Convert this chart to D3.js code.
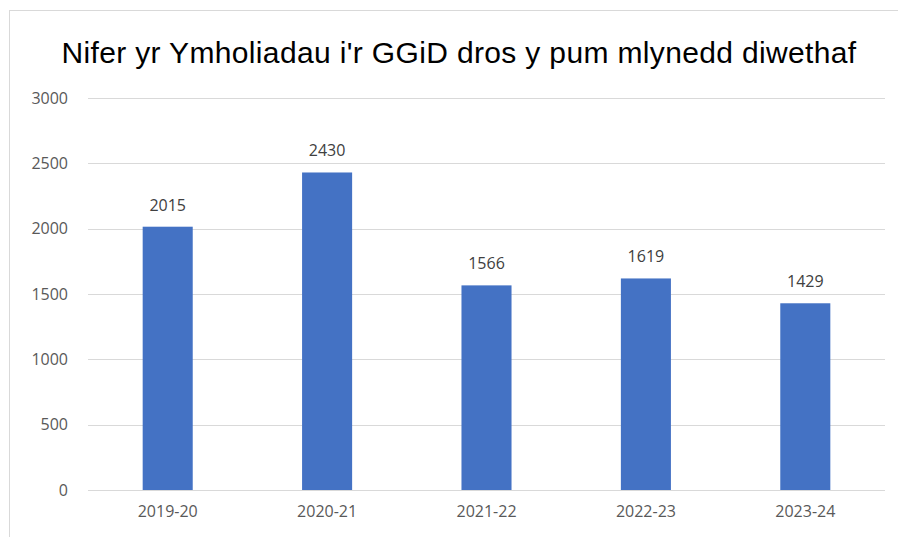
<!DOCTYPE html>
<html>
<head>
<meta charset="utf-8">
<script src="https://cdn.jsdelivr.net/npm/d3@7"></script>
<style>
  body { margin: 0; background: #fff; }
</style>
</head>
<body>
<script>
const years = ['2019-20', '2020-21', '2021-22', '2022-23', '2023-24']
const enquiries = [2015, 2430, 1566, 1619, 1429]
const yTicks = [0, 500, 1000, 1500, 2000, 2500, 3000]
const chartTitle = "Nifer yr Ymholiadau i'r GGiD dros y pum mlynedd diwethaf"

const W = 898, H = 537
const margin = { top: 98, left: 88, right: 13, bottom: 47 }
const width = W - margin.left - margin.right,
  height = H - margin.top - margin.bottom

const svg = d3.select('body')
  .append('svg')
  .attr('width', W)
  .attr('height', H)

// chart border
svg.append('rect')
  .attr('x', 9.5)
  .attr('y', 10.5)
  .attr('width', W)
  .attr('height', H)
  .attr('fill', 'none')
  .attr('stroke', '#d9d9d9')

svg.append('text')
  .attr('x', 459)
  .attr('y', 63)
  .attr('text-anchor', 'middle')
  .style('font-family', '"Liberation Sans", Arial, sans-serif')
  .style('font-size', '30px')
  .style('letter-spacing', '0.35px')
  .style('fill', '#000')
  .text(chartTitle)

const g = svg.append('g')
  .attr('transform', `translate(${margin.left}, ${margin.top})`)

const x = d3.scaleBand()
  .domain(years)
  .range([0, width])
  .paddingInner(0.686)
  .paddingOuter(0.343)

const y = d3.scaleLinear()
  .domain([0, 3000])
  .range([height, 0])

// gridlines
g.append('g')
  .selectAll('line')
  .data(yTicks)
  .enter()
  .append('line')
  .attr('x1', 0)
  .attr('x2', width)
  .attr('y1', d => Math.round(y(d)) + 0.5)
  .attr('y2', d => Math.round(y(d)) + 0.5)
  .attr('stroke', '#d9d9d9')
  .attr('stroke-width', 1)

const labelFont = '"Open Sans", "Liberation Sans", sans-serif'

const yAxis = d3.axisLeft(y)
  .tickValues(yTicks)
  .tickFormat(d3.format('d'))
  .tickSize(0)
  .tickPadding(20)

g.append('g')
  .call(yAxis)
  .call(a => a.select('.domain').remove())
  .selectAll('text')
  .style('font-family', labelFont)
  .style('font-size', '16px')
  .style('fill', '#595959')

const xAxis = d3.axisBottom(x)
  .tickSize(0)
  .tickPadding(16)

g.append('g')
  .attr('transform', `translate(0, ${height})`)
  .call(xAxis)
  .call(a => a.select('.domain').remove())
  .selectAll('text')
  .style('font-family', labelFont)
  .style('font-size', '16px')
  .style('fill', '#595959')

g.append('g')
  .selectAll('rect')
  .data(enquiries)
  .enter()
  .append('rect')
  .attr('x', (d, i) => x(years[i]))
  .attr('y', d => y(d))
  .attr('width', x.bandwidth())
  .attr('height', d => height - y(d))
  .attr('fill', '#4472c4')

g.append('g')
  .selectAll('text')
  .data(enquiries)
  .enter()
  .append('text')
  .attr('x', (d, i) => x(years[i]) + x.bandwidth() / 2)
  .attr('y', d => y(d) - 16)
  .attr('text-anchor', 'middle')
  .style('font-family', labelFont)
  .style('font-size', '16px')
  .style('fill', '#404040')
  .text(d => d)
</script>
</body>
</html>
